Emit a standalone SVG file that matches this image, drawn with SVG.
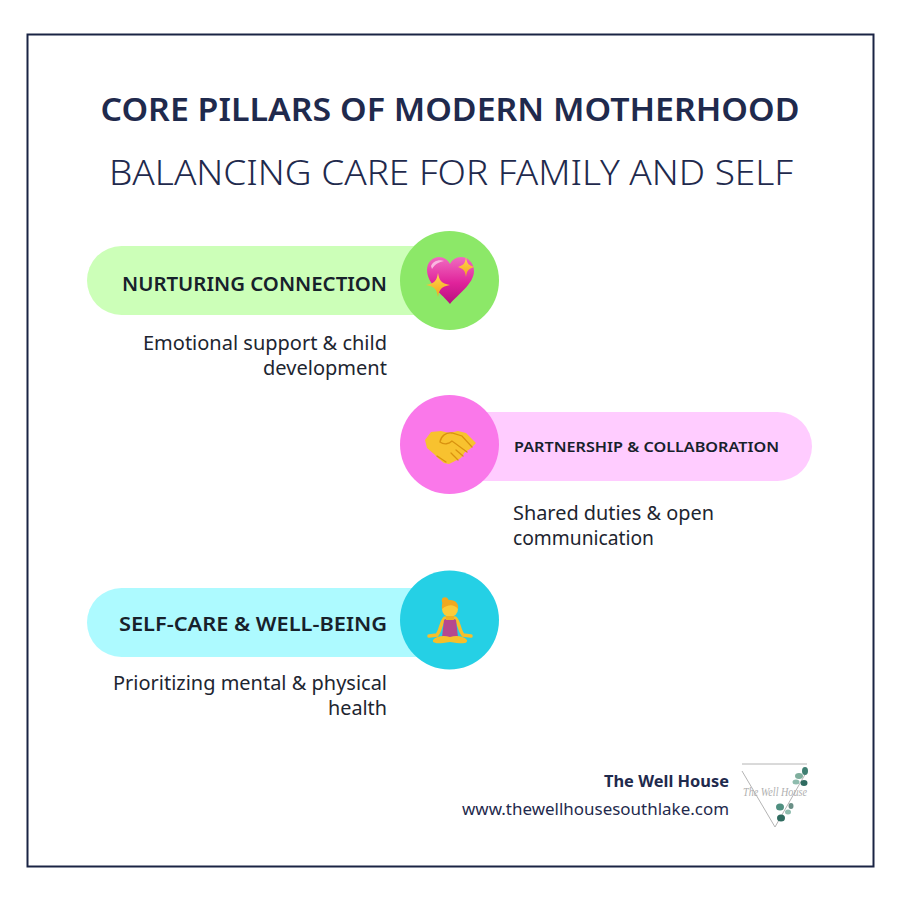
<svg xmlns="http://www.w3.org/2000/svg" width="900" height="900" viewBox="0 0 900 900">
<style>
text{font-family:"Noto Sans","Open Sans","Liberation Sans",sans-serif}
.t{fill:#1f2a4d;text-anchor:middle}
.h{font-weight:600;fill:#17212b;text-anchor:end;font-size:20px}
.d{fill:#1d2530;font-size:20px}
.e{text-anchor:end}
</style>
<defs>
<linearGradient id="hg" x1="0" y1="0" x2="0" y2="1"><stop offset="0" stop-color="#f06cc0"/><stop offset=".55" stop-color="#e0239b"/><stop offset="1" stop-color="#b80f7e"/></linearGradient>
<linearGradient id="yg" x1="0" y1="0" x2="0" y2="1"><stop offset="0" stop-color="#ffd84d"/><stop offset="1" stop-color="#f3a51d"/></linearGradient>
<path id="star" d="M0-12C1.500-4 3-2 12 0C3 2 1.500 4 0 12C-1.500 4-3 2-12 0C-3-2-1.500-4 0-12Z" fill="url(#yg)"/>
<path id="star2" d="M0-10C1-3 2.500-2 8 0C2.500 2 1 3 0 10C-1 3-2.500 2-8 0C-2.500-2-1-3 0-10Z" fill="url(#yg)"/>
</defs>
<rect width="900" height="900" fill="#fff"/>
<rect x="27.500" y="34.500" width="846" height="832" fill="#fff" stroke="#1a2444" stroke-width="2"/>
<text class="t" x="450" y="121" font-size="32" font-weight="600" textLength="699" lengthAdjust="spacingAndGlyphs">CORE PILLARS OF MODERN MOTHERHOOD</text>
<text class="t" x="451" y="185" font-size="35" font-weight="300" textLength="684" lengthAdjust="spacingAndGlyphs">BALANCING CARE FOR FAMILY AND SELF</text>

<g id="node-nurturing">
<rect x="87" y="246" width="380" height="69" rx="34.500" fill="#ccffb8"/>
<circle cx="449.500" cy="280.500" r="49.500" fill="#8ce868"/>
<path d="M450 304C443 295 427 284 427 270C427 262 433 257 439 257C444 257 448 260 450 264C452 260 456 257 461 257C468 257 474 263 474 271C474 284 457 295 450 304Z" fill="url(#hg)"/>
<path d="M431 266C433 261 439 259 444 261C439 262 435 264 432 269Z" fill="#f9b6e0"/>
<use href="#star" x="438" y="285"/>
<use href="#star2" x="466" y="267"/>
<text class="h" x="387" y="291" textLength="265" lengthAdjust="spacingAndGlyphs">NURTURING CONNECTION</text>
<text class="d e" x="387" y="350" textLength="244" lengthAdjust="spacingAndGlyphs">Emotional support &amp; child</text>
<text class="d e" x="387" y="375" textLength="124" lengthAdjust="spacingAndGlyphs">development</text>
</g>

<g id="node-partnership">
<rect x="432" y="412" width="380" height="69" rx="34.500" fill="#ffccff"/>
<circle cx="449.500" cy="444.500" r="49.500" fill="#fa78ea"/>
<path d="M425 440L431 432L441 431L449 433L458 431L466 433L470 437L476 443L470 449L465 452L461 458L455 461L449 464L444 463L439 459L434 454L427 448Z" fill="#f8c22f"/>
<path d="M440 442C441 436 446 432 452 433L462 436L472 447M440 442C444 445 449 444 452 441L467 452M456 450L463 456M451 453L458 460M437 456L446 462" fill="none" stroke="#d9920f" stroke-width="1.300" stroke-linecap="round"/>
<text x="779" y="452" font-size="15" font-weight="600" fill="#17212b" text-anchor="end" textLength="265" lengthAdjust="spacingAndGlyphs">PARTNERSHIP &amp; COLLABORATION</text>
<text class="d" x="513" y="520" textLength="201" lengthAdjust="spacingAndGlyphs">Shared duties &amp; open</text>
<text class="d" x="513" y="545" textLength="141" lengthAdjust="spacingAndGlyphs">communication</text>
</g>

<g id="node-selfcare">
<rect x="87" y="588" width="380" height="69" rx="34.500" fill="#adfaff"/>
<circle cx="449.500" cy="620" r="49.500" fill="#25d0e5"/>
<path d="M445 618C441 621 441 630 437 635L429 636M455 618C459 621 459 630 463 635L471 636" fill="none" stroke="#f7bf2b" stroke-width="3.500" stroke-linecap="round"/>
<path d="M444 620C446 618 454 618 456 620L458 637H442Z" fill="#b5488f"/>
<path d="M433 640C436 636 444 635 450 637C456 635 464 636 467 640C468 644 462 644 450 642C438 644 432 644 433 640Z" fill="#f7bf2b"/>
<circle cx="450" cy="609" r="8" fill="#fbcb3a"/>
<path d="M442 609C441 601 445 599 450 600C456 600 459 604 458 609C454 604 448 604 442 609Z" fill="#f2a820"/>
<circle cx="445" cy="600.500" r="3.200" fill="#f2a820"/>
<rect x="446" y="616" width="8" height="4" fill="#f0b025"/>
<text class="h" x="387" y="631" textLength="268" lengthAdjust="spacingAndGlyphs">SELF-CARE &amp; WELL-BEING</text>
<text class="d e" x="387" y="690" textLength="274" lengthAdjust="spacingAndGlyphs">Prioritizing mental &amp; physical</text>
<text class="d e" x="387" y="715" textLength="59" lengthAdjust="spacingAndGlyphs">health</text>
</g>

<g id="footer">
<text x="729" y="787" font-size="16" font-weight="700" fill="#1f2a4d" text-anchor="end" textLength="125" lengthAdjust="spacingAndGlyphs">The Well House</text>
<text x="729" y="815" font-size="16" fill="#1f2a4d" text-anchor="end" textLength="267" lengthAdjust="spacingAndGlyphs">www.thewellhousesouthlake.com</text>
</g>

<g id="logo">
<path d="M742 764H807M742 771L775 827L807 771" fill="none" stroke="#b4b4b4" stroke-width="1"/>
<text x="775" y="796" font-size="13" font-style="italic" fill="#b0b0b0" text-anchor="middle" style="font-family:'Liberation Serif',serif" textLength="64" lengthAdjust="spacingAndGlyphs">The Well House</text>
<ellipse cx="805" cy="771" rx="3" ry="4" fill="#3f7f72"/><ellipse cx="799" cy="776" rx="4" ry="3" fill="#7fae9d"/><ellipse cx="804" cy="783" rx="3.500" ry="3" fill="#2f6b60"/><ellipse cx="796" cy="782" rx="3.500" ry="2.500" fill="#8fbcae"/>
<ellipse cx="780" cy="807" rx="4" ry="3.500" fill="#4f8f80"/><ellipse cx="781" cy="818" rx="4" ry="3.500" fill="#2f6b60"/><ellipse cx="788" cy="812" rx="3" ry="2.500" fill="#8fbcae"/><ellipse cx="791" cy="806" rx="2.500" ry="3" fill="#6a8f86"/>
</g>
</svg>
